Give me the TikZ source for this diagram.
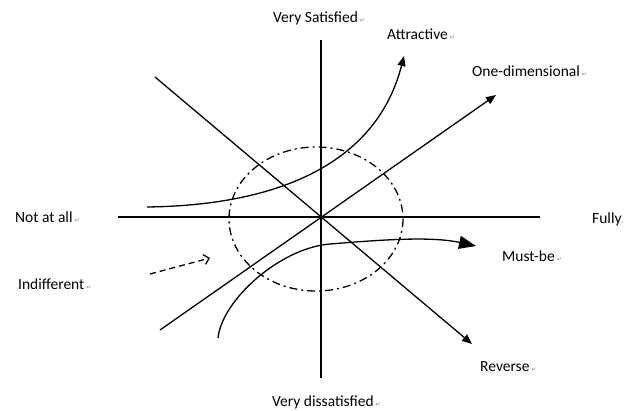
\documentclass[tikz,border=0pt]{standalone}
\usepackage{fontspec}
\setmainfont{Carlito}
\newfontfamily\symfont{DejaVu Sans}
\usetikzlibrary{arrows.meta}
\newcommand\retmark{\hspace{2pt}{\symfont\fontsize{6}{6}\selectfont\textcolor{gray}{↵}}}
\begin{document}
\begin{tikzpicture}[x=1pt,y=-1pt,
  lbl/.style={anchor=base west,inner sep=0pt,font=\fontsize{15.5}{18}\selectfont},
  axisline/.style={line width=2.6pt},
  rayline/.style={line width=1.3pt},
  tipsmall/.style={-{Triangle[length=10pt,width=8pt]}},
  tipbig/.style={-{Triangle[length=17pt,width=13pt]}},
  dashdotted/.style={line width=1.3pt,dash pattern=on 8pt off 4pt on 2pt off 4pt}]
\useasboundingbox (0,0) rectangle (634,411);
% coordinates
\coordinate (O) at (321,217);
\coordinate (vt) at (321,40);
\coordinate (vb) at (321,378);
\coordinate (hl) at (118,217);
\coordinate (hr) at (540,217);
\coordinate (rs) at (155,77);
\coordinate (re) at (472,344);
\coordinate (os) at (160,330);
\coordinate (oe) at (496,95);
\coordinate (as) at (147,207);
\coordinate (ae) at (404,56);
\coordinate (ms) at (218,338);
\coordinate (mm) at (330,244);
\coordinate (me) at (476,246);
\coordinate (is) at (150,274);
\coordinate (ie) at (210,258);
% axes
\draw[axisline] (vt) -- (vb);
\draw[axisline] (hl) -- (hr);
% diagonals
\draw[rayline,tipsmall] (rs) -- (re);
\draw[rayline,tipsmall] (os) -- (oe);
% ellipse
\draw[dashdotted] (316,219) ellipse [x radius=87, y radius=72];
% curves
\draw[rayline,tipsmall] (as) .. controls (300,205) and (380,150) .. (ae);
\draw[rayline,tipbig] (ms) .. controls (222,300) and (280,248) .. (mm)
   .. controls (380,240) and (430,236) .. (me);
\draw[rayline,dash pattern=on 6pt off 4pt,-{Straight Barb[length=5pt,width=10pt]}] (is) -- (ie);
% labels
\node[lbl] (vs) at (273,23) {Very Satisfied\retmark};
\node[lbl] (at) at (387,40) {Attractive\retmark};
\node[lbl] (od) at (472,77) {One-dimensional\retmark};
\node[lbl] (fu) at (592,224) {Fully{\symfont\fontsize{3}{3}\selectfont\textcolor{gray}{↵}}};
\node[lbl] (mb) at (502,262) {Must-be\retmark};
\node[lbl] (na) at (15,223) {Not at all\retmark};
\node[lbl] (in) at (18,290) {Indifferent\retmark};
\node[lbl] (rv) at (480,371) {Reverse\retmark};
\node[lbl] (vd) at (272,406) {Very dissatisfied\retmark};
\end{tikzpicture}
\end{document}
